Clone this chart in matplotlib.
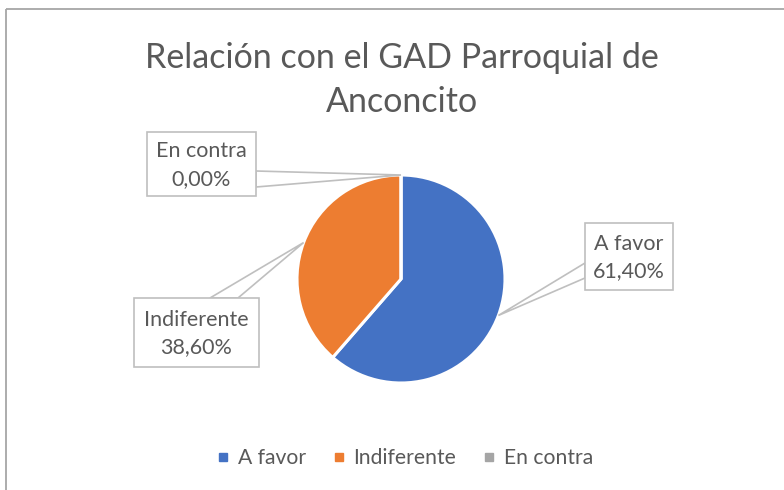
import matplotlib.pyplot as plt
import numpy as np
from matplotlib.lines import Line2D
from matplotlib.patches import Rectangle, Polygon

plt.rcParams['font.family'] = ['Lato', 'DejaVu Sans']

title = 'Relación con el GAD Parroquial de\nAnconcito'
categories = ['A favor', 'Indiferente', 'En contra']
values = [61.40, 38.60, 0.00]
colors = ['#4472C4', '#ED7D31', '#A5A5A5']
text_color = '#595959'
line_color = '#BFBFBF'

W, H = 784, 490
fig = plt.figure(figsize=(W / 100, H / 100), dpi=100)

# overlay axes in image pixel coordinates (y down)
ov = fig.add_axes([0, 0, 1, 1], zorder=3)
ov.set_xlim(0, W)
ov.set_ylim(H, 0)
ov.axis('off')
ov.patch.set_alpha(0)

# pie
cx, cy, r = 401, 279, 104
ax = fig.add_axes([(cx - r) / W, (H - cy - r) / H, 2 * r / W, 2 * r / H])
wedges, _ = ax.pie(values, colors=colors, startangle=90, counterclock=False, radius=1,
                   wedgeprops=dict(edgecolor='white', linewidth=2.2))
ax.set_xlim(-1, 1)
ax.set_ylim(-1, 1)
ax.set_aspect('auto')
ax.axis('off')

# outer chart border
ov.add_patch(Rectangle((6, 9), W + 20, H + 20, fill=False, edgecolor='#A6A6A6', lw=1.3))

ov.text(W / 2 + 10, 80, title, ha='center', va='center', fontsize=24.5, color=text_color,
        linespacing=1.48)

# callout boxes: (x0, y0, x1, y1) and the base points of the pointer on the box edge
boxes = [
    ((585, 223, 673, 290), [(585, 263), (585, 278)]),
    ((134, 298, 259, 367), [(210, 298), (238, 298)]),
    ((147, 132, 256, 196), [(256, 171), (256, 187)]),
]

for w, cat, val, (box, base) in zip(wedges, categories, values, boxes):
    mid = np.deg2rad((w.theta1 + w.theta2) / 2)
    ax_pt = (cx + r * np.cos(mid), cy - r * np.sin(mid))
    x0, y0, x1, y1 = box
    ov.add_patch(Polygon([base[0], ax_pt, base[1]], closed=True, facecolor='white',
                         edgecolor=line_color, lw=1.2, zorder=2))
    ov.add_patch(Rectangle((x0, y0), x1 - x0, y1 - y0, facecolor='white',
                           edgecolor=line_color, lw=1.2, zorder=3))
    ov.text((x0 + x1) / 2, (y0 + y1) / 2 + 1, f'{cat}\n{val:.2f}%'.replace('.', ','),
            ha='center', va='center', fontsize=15.5, color=text_color, linespacing=1.45,
            zorder=4)

handles = [Line2D([], [], marker='s', ls='none', color=c, markersize=5.5) for c in colors]
fig.legend(handles, categories, loc='center', bbox_to_anchor=(405 / W, 1 - 458 / H), ncol=3,
           frameon=False, fontsize=15.2, labelcolor=text_color, handlelength=0.6,
           handletextpad=0.4, columnspacing=1.25)

fig.savefig('out.png', dpi=100)
